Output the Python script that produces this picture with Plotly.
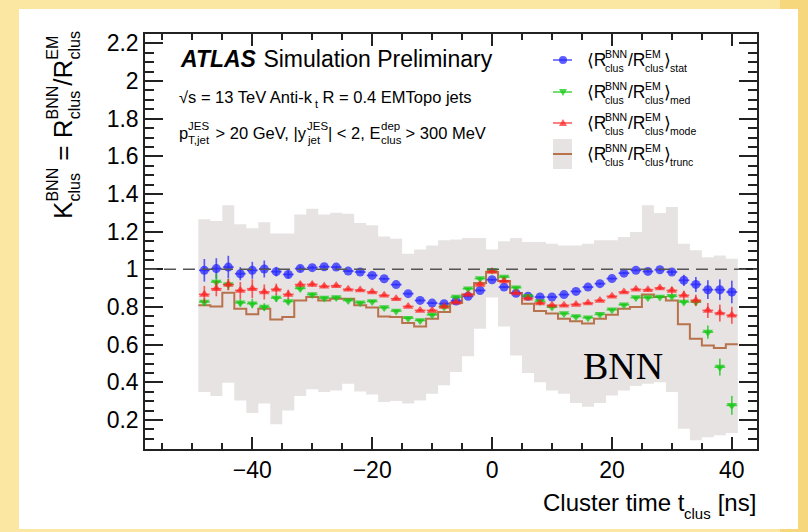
import plotly.graph_objects as go

# ---------------- data ----------------
t_centers = [-48, -46, -44, -42, -40, -38, -36, -34, -32, -30, -28, -26, -24, -22, -20,
             -18, -16, -14, -12, -10, -8, -6, -4, -2, 0, 2, 4, 6, 8, 10,
             12, 14, 16, 18, 20, 22, 24, 26, 28, 30, 32, 34, 36, 38, 40]
bin_half = 1.0

r_stat = [0.995, 1.004, 1.012, 0.977, 0.995, 1.002, 0.988, 0.973, 1.004, 1.009, 1.014, 1.012, 0.991, 0.986, 0.968,
          0.950, 0.919, 0.871, 0.835, 0.821, 0.818, 0.832, 0.857, 0.888, 0.945, 0.906, 0.873, 0.857, 0.853, 0.853,
          0.866, 0.883, 0.906, 0.924, 0.951, 0.980, 0.995, 0.989, 0.998, 0.986, 0.942, 0.920, 0.892, 0.892, 0.880]
r_stat_err = [0.060, 0.055, 0.060, 0.035, 0.045, 0.045, 0.025, 0.020, 0.015, 0.010, 0.008, 0.008, 0.006, 0.006, 0.005,
              0.005, 0.005, 0.005, 0.005, 0.005, 0.005, 0.005, 0.005, 0.005, 0.005, 0.005, 0.005, 0.005, 0.005, 0.005,
              0.005, 0.005, 0.005, 0.005, 0.005, 0.006, 0.006, 0.007, 0.008, 0.015, 0.030, 0.040, 0.050, 0.055, 0.060]

r_med = [0.827, 0.933, 0.920, 0.823, 0.818, 0.800, 0.848, 0.830, 0.899, 0.866, 0.848, 0.851, 0.835, 0.823, 0.830,
         0.797, 0.779, 0.741, 0.729, 0.759, 0.800, 0.853, 0.897, 0.951, 0.995, 0.959, 0.903, 0.857, 0.830, 0.800,
         0.765, 0.750, 0.743, 0.761, 0.786, 0.812, 0.850, 0.850, 0.853, 0.857, 0.827, 0.827, 0.667, 0.481, 0.278]
r_med_err = [0.020, 0.045, 0.030, 0.020, 0.025, 0.020, 0.020, 0.015, 0.012, 0.010, 0.008, 0.008, 0.006, 0.006, 0.006,
             0.006, 0.006, 0.006, 0.006, 0.006, 0.006, 0.006, 0.006, 0.006, 0.006, 0.006, 0.006, 0.006, 0.006, 0.006,
             0.006, 0.006, 0.006, 0.006, 0.006, 0.006, 0.006, 0.007, 0.008, 0.010, 0.012, 0.015, 0.035, 0.045, 0.050]

r_mode = [0.867, 0.897, 0.919, 0.888, 0.897, 0.880, 0.894, 0.867, 0.919, 0.920, 0.910, 0.913, 0.894, 0.890, 0.880,
          0.862, 0.844, 0.803, 0.782, 0.782, 0.803, 0.826, 0.867, 0.919, 0.989, 0.938, 0.874, 0.846, 0.821, 0.809,
          0.809, 0.814, 0.821, 0.835, 0.857, 0.880, 0.894, 0.892, 0.901, 0.888, 0.862, 0.835, 0.782, 0.768, 0.756]
r_mode_err = [0.045, 0.040, 0.030, 0.045, 0.050, 0.040, 0.030, 0.025, 0.015, 0.012, 0.010, 0.008, 0.006, 0.006, 0.006,
              0.006, 0.006, 0.006, 0.006, 0.006, 0.006, 0.006, 0.006, 0.006, 0.006, 0.006, 0.006, 0.006, 0.006, 0.006,
              0.006, 0.006, 0.006, 0.006, 0.006, 0.006, 0.008, 0.008, 0.010, 0.020, 0.025, 0.030, 0.040, 0.045, 0.045]

r_trunc = [0.809, 0.803, 0.876, 0.791, 0.761, 0.791, 0.734, 0.747, 0.835, 0.853, 0.835, 0.844, 0.844, 0.809, 0.797,
           0.750, 0.747, 0.715, 0.697, 0.738, 0.773, 0.821, 0.867, 0.927, 0.986, 0.938, 0.874, 0.818, 0.779, 0.765,
           0.738, 0.724, 0.712, 0.738, 0.759, 0.791, 0.800, 0.866, 0.853, 0.835, 0.708, 0.632, 0.596, 0.582, 0.602]
band_hi = [1.266, 1.257, 1.340, 1.239, 1.219, 1.250, 1.190, 1.190, 1.292, 1.322, 1.292, 1.301, 1.296, 1.246, 1.234,
           1.175, 1.163, 1.083, 1.105, 1.127, 1.154, 1.159, 1.166, 1.166, 1.105, 1.149, 1.166, 1.145, 1.145, 1.136,
           1.127, 1.127, 1.136, 1.154, 1.154, 1.172, 1.198, 1.340, 1.299, 1.331, 1.136, 1.101, 1.065, 1.074, 1.057]
band_lo = [0.349, 0.327, 0.398, 0.304, 0.237, 0.287, 0.177, 0.251, 0.327, 0.363, 0.349, 0.357, 0.393, 0.352, 0.336,
           0.295, 0.301, 0.287, 0.304, 0.340, 0.384, 0.455, 0.538, 0.685, 0.850, 0.697, 0.543, 0.449, 0.400, 0.357,
           0.340, 0.290, 0.270, 0.290, 0.330, 0.357, 0.380, 0.393, 0.400, 0.349, 0.154, 0.092, 0.109, 0.119, 0.131]

x_range = [-57.9, 44.2]
y_range = [0.046, 2.25]
x_ticks = [-40, -20, 0, 20, 40]
y_ticks = [0.2, 0.4, 0.6, 0.8, 1.0, 1.2, 1.4, 1.6, 1.8, 2.0, 2.2]
y_ticktext = ["0.2", "0.4", "0.6", "0.8", "1", "1.2", "1.4", "1.6", "1.8", "2", "2.2"]

# ---------------- styling ----------------
W_PX, H_PX = 808, 532
L, R, T, B = 145, 757, 34, 449
PW, PH = R - L, B - T
FONT = "Liberation Sans, Arial, DejaVu Sans, sans-serif"
C_BLUE = "rgba(40,40,255,0.75)"
C_GREEN = "rgba(20,200,20,0.75)"
C_RED = "rgba(255,30,30,0.70)"
C_BROWN = "#b8724c"
C_BAND = "#e7e3e3"

def pxx(x):
    return (x - L) / PW

def pxy(y):
    return (B - y) / PH

edges = [c - bin_half for c in t_centers] + [t_centers[-1] + bin_half]

fig = go.Figure()
fig.add_trace(go.Scatter(x=edges, y=band_lo + [band_lo[-1]], mode="lines", line=dict(width=0, shape="hv"),
                         showlegend=False, hoverinfo="skip"))
fig.add_trace(go.Scatter(x=edges, y=band_hi + [band_hi[-1]], mode="lines", line=dict(width=0, shape="hv"),
                         fill="tonexty", fillcolor=C_BAND, showlegend=False, hoverinfo="skip"))
fig.add_trace(go.Scatter(x=edges, y=r_trunc + [r_trunc[-1]], mode="lines",
                         line=dict(color=C_BROWN, width=2, shape="hv"), showlegend=False))


def pts(y, err, color, symbol, size):
    return go.Scatter(x=t_centers, y=y, mode="markers",
                      marker=dict(color=color, symbol=symbol, size=size, line=dict(width=0)),
                      error_y=dict(type="data", array=err, color=color, thickness=1.7, width=0),
                      error_x=dict(type="constant", value=bin_half * 0.9, color=color, thickness=1.7, width=0),
                      showlegend=False)

fig.add_trace(pts(r_stat, r_stat_err, C_BLUE, "circle", 9))
fig.add_trace(pts(r_med, r_med_err, C_GREEN, "triangle-down", 9))
fig.add_trace(pts(r_mode, r_mode_err, C_RED, "triangle-up", 9))

shapes = []
# yellow frame shading
shapes.append(dict(type="rect", xref="paper", yref="paper", x0=pxx(780), x1=pxx(808), y0=pxy(532), y1=pxy(0),
                   fillcolor="#f7d77c", line=dict(width=0), layer="below"))
shapes.append(dict(type="rect", xref="paper", yref="paper", x0=pxx(19), x1=pxx(798), y0=pxy(529), y1=pxy(9),
                   fillcolor="white", line=dict(width=0), layer="below"))
shapes.append(dict(type="line", xref="paper", yref="y", x0=0, x1=1, y0=1, y1=1,
                   line=dict(color="#555555", width=1.5, dash="12px,7px"), layer="above"))

# ---------------- rich text helpers ----------------
AW = {' ': 278, '!': 278, '(': 333, ')': 333, ',': 278, '-': 333, '.': 278, '/': 278, ':': 278,
      '0': 556, '1': 556, '2': 556, '3': 556, '4': 556, '5': 556, '6': 556, '7': 556, '8': 556, '9': 556,
      '<': 584, '=': 584, '>': 584, '[': 278, ']': 278, '|': 260, '√': 549, '⟨': 333, '⟩': 333,
      'A': 667, 'B': 667, 'C': 722, 'D': 722, 'E': 667, 'F': 611, 'G': 778, 'H': 722, 'I': 278, 'J': 500,
      'K': 667, 'L': 556, 'M': 833, 'N': 722, 'O': 778, 'P': 667, 'Q': 778, 'R': 722, 'S': 667, 'T': 611,
      'U': 722, 'V': 667, 'W': 944, 'X': 667, 'Y': 667, 'Z': 611,
      'a': 556, 'b': 556, 'c': 500, 'd': 556, 'e': 556, 'f': 278, 'g': 556, 'h': 556, 'i': 222, 'j': 222,
      'k': 500, 'l': 222, 'm': 833, 'n': 556, 'o': 556, 'p': 556, 'q': 556, 'r': 333, 's': 500, 't': 278,
      'u': 556, 'v': 500, 'w': 722, 'x': 500, 'y': 500, 'z': 500}
BW = {'A': 722, 'T': 611, 'L': 611, 'S': 667}

def tw(s, f, bold=False):
    return sum((BW.get(ch, AW.get(ch, 556)) if bold else AW.get(ch, 556)) for ch in s) * f / 1000.0

annotations = []

def put(x, yb, text, f, bold=False, family=FONT):
    txt = "<b><i>%s</i></b>" % text if bold else text
    annotations.append(dict(xref="paper", yref="paper", x=pxx(x), y=pxy(yb - 0.3465 * f), text=txt,
                            showarrow=False, xanchor="left", yanchor="middle", borderpad=0,
                            font=dict(family=family, size=f, color="black")))

def rich(x, yb, segs, f, fs, sup_dy=0.52, sub_dy=0.32, sub_dx=0.0):
    cx = x
    for seg in segs:
        base, sup, sub = seg[0], seg[1], seg[2]
        bold = len(seg) > 3 and seg[3]
        if base:
            put(cx, yb, base, f, bold)
            cx += tw(base, f, bold)
        adv = 0.0
        if sup:
            put(cx, yb - sup_dy * f, sup, fs)
            adv = max(adv, tw(sup, fs))
        if sub:
            put(cx + sub_dx * f, yb + sub_dy * f, sub, fs)
            adv = max(adv, sub_dx * f + tw(sub, fs))
        cx += adv

def put_rot(xb, ybot, text, f):
    annotations.append(dict(xref="paper", yref="paper", x=pxx(xb - 0.3465 * f), y=pxy(ybot), text=text,
                            showarrow=False, xanchor="center", yanchor="bottom", textangle=-90, borderpad=0,
                            font=dict(family=FONT, size=f, color="black")))

def rich_rot(xb, ybot, segs, f, fs, sup_dy=0.52, sub_dy=0.32):
    cy = ybot
    for base, sup, sub in segs:
        if base:
            put_rot(xb, cy, base, f)
            cy -= tw(base, f)
        adv = 0.0
        if sup:
            put_rot(xb - sup_dy * f, cy, sup, fs)
            adv = max(adv, tw(sup, fs))
        if sub:
            put_rot(xb + sub_dy * f, cy, sub, fs)
            adv = max(adv, tw(sub, fs))
        cy -= adv

# ATLAS label block
rich(179, 67, [("ATLAS", "", "", True), (" Simulation Preliminary", "", "")], 23, 14)
rich(178, 103, [("√s = 13 TeV Anti-k", "", "t"), (" R = 0.4 EMTopo jets", "", "")], 16.5, 11)
rich(178, 139, [("p", "JES", "T,jet"), (" > 20 GeV, |y", "JES", "jet"), ("| < 2, E", "dep", "clus"),
                (" > 300 MeV", "", "")], 16.5, 11.5)

# legend
leg_rows = [60, 92, 123, 154]
leg_sub = ["stat", "med", "mode", "trunc"]
leg_col = [C_BLUE, C_GREEN, C_RED]
leg_sym = ["circle", "tri-down", "tri-up"]
sx0, sx1, sxm = 553, 572, 563
shapes.append(dict(type="rect", xref="paper", yref="paper", x0=pxx(sx0), x1=pxx(sx1),
                   y0=pxy(leg_rows[3] + 15), y1=pxy(leg_rows[3] - 15), fillcolor=C_BAND, line=dict(width=0)))
shapes.append(dict(type="line", xref="paper", yref="paper", x0=pxx(sx0), x1=pxx(sx1),
                   y0=pxy(leg_rows[3]), y1=pxy(leg_rows[3]), line=dict(color=C_BROWN, width=2)))
for i in range(3):
    yy = leg_rows[i]
    shapes.append(dict(type="line", xref="paper", yref="paper", x0=pxx(sx0), x1=pxx(sx1),
                       y0=pxy(yy), y1=pxy(yy), line=dict(color=leg_col[i], width=1.6)))
    if leg_sym[i] == "circle":
        shapes.append(dict(type="circle", xref="paper", yref="paper", xsizemode="pixel", ysizemode="pixel",
                           xanchor=pxx(sxm), yanchor=pxy(yy), x0=-4, x1=4, y0=-4, y1=4,
                           fillcolor=leg_col[i], line=dict(width=0)))
    elif leg_sym[i] == "tri-down":
        shapes.append(dict(type="path", xref="paper", yref="paper", xsizemode="pixel", ysizemode="pixel",
                           xanchor=pxx(sxm), yanchor=pxy(yy), path="M -4 3 L 4 3 L 0 -4 Z",
                           fillcolor=leg_col[i], line=dict(width=0)))
    else:
        shapes.append(dict(type="path", xref="paper", yref="paper", xsizemode="pixel", ysizemode="pixel",
                           xanchor=pxx(sxm), yanchor=pxy(yy), path="M -4 -3 L 4 -3 L 0 4 Z",
                           fillcolor=leg_col[i], line=dict(width=0)))
for i in range(4):
    yb = leg_rows[i] + 6.5
    rich(586, yb, [("⟨R", "BNN", "clus"), ("/R", "EM", "clus"), ("⟩", "", leg_sub[i])], 17.5, 10.5)

# BNN label
annotations.append(dict(xref="paper", yref="paper", x=pxx(582), y=pxy(377 - 0.3 * 38), text="BNN",
                        showarrow=False, xanchor="left", yanchor="middle", borderpad=0,
                        font=dict(family="Liberation Serif, Times New Roman, serif", size=38, color="black")))

# axis titles
rich_rot(72, 220, [("K", "BNN", "clus"), (" = R", "BNN", "clus"), ("/R", "EM", "clus")], 26, 16)
xt = [("Cluster time t", "", "clus"), (" [ns]", "", "")]
xt_w = tw("Cluster time t", 24) + tw("clus", 15) + tw(" [ns]", 24)
rich(755 - xt_w, 511, xt, 24, 15)

axis_common = dict(showline=True, linecolor="#222222", linewidth=1.5, mirror="allticks", ticks="inside",
                   tickcolor="#222222", tickwidth=1.5, showgrid=False, zeroline=False,
                   tickfont=dict(family=FONT, size=23, color="black"))

fig.update_xaxes(range=x_range, tickvals=x_ticks, ticklen=12,
                 minor=dict(dtick=5, tick0=0, ticklen=6, ticks="inside", tickcolor="#222222", tickwidth=1.5,
                            showgrid=False),
                 **axis_common)
fig.update_yaxes(range=y_range, tickvals=y_ticks, ticktext=y_ticktext, ticklen=18,
                 minor=dict(dtick=0.05, tick0=0, ticklen=9, ticks="inside", tickcolor="#222222", tickwidth=1.5,
                            showgrid=False),
                 **axis_common)

fig.update_layout(width=W_PX, height=H_PX, margin=dict(l=L, r=W_PX - R, t=T, b=H_PX - B),
                  paper_bgcolor="#fbe6a2", plot_bgcolor="white", showlegend=False,
                  shapes=shapes, annotations=annotations, font=dict(family=FONT, color="black"))

fig.write_html("out.html")
